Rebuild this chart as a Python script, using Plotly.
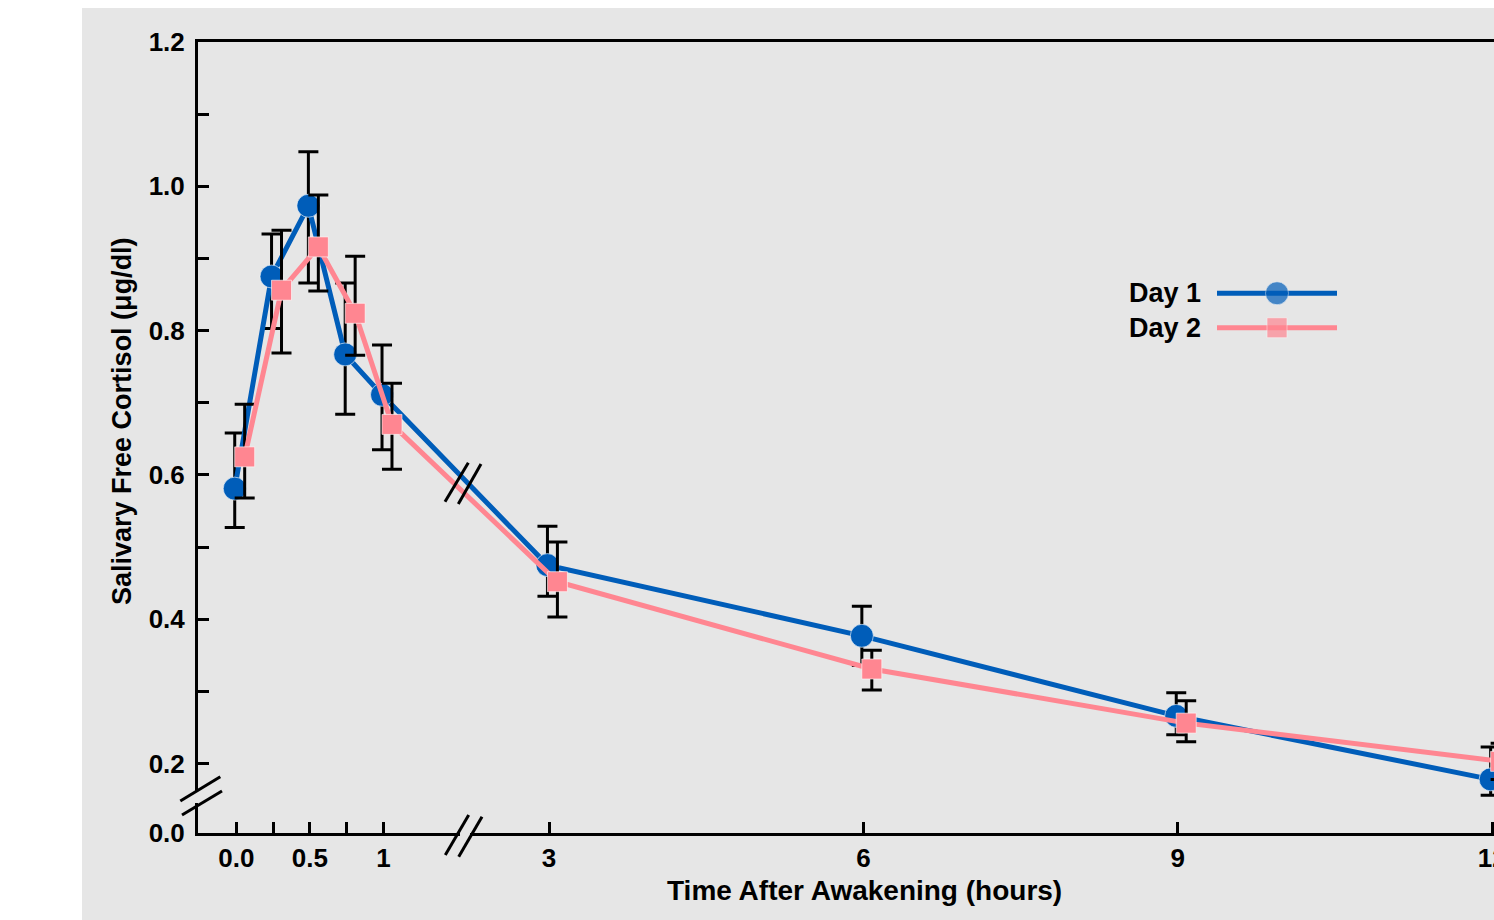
import plotly.graph_objects as go

# ---------------- data ----------------
hours = [0.0, 0.25, 0.5, 0.75, 1.0, 3.0, 6.0, 9.0, 12.0]

day1_mean = [0.581, 0.875, 0.973, 0.767, 0.711, 0.475, 0.377, 0.266, 0.178]
day1_err_up = [0.077, 0.059, 0.075, 0.099, 0.069, 0.054, 0.041, 0.032, 0.045]
day1_err_dn = [0.054, 0.072, 0.107, 0.083, 0.076, 0.043, 0.041, 0.026, 0.022]

day2_mean = [0.625, 0.856, 0.916, 0.824, 0.670, 0.452, 0.331, 0.256, 0.203]
day2_err_up = [0.073, 0.083, 0.072, 0.079, 0.057, 0.055, 0.026, 0.031, 0.025]
day2_err_dn = [0.057, 0.087, 0.061, 0.058, 0.062, 0.049, 0.029, 0.026, 0.025]

x_tick_hours = [0.0, 0.25, 0.5, 0.75, 1.0, 3.0, 6.0, 9.0, 12.0]
x_tick_labels = ["0.0", "", "0.5", "", "1", "3", "6", "9", "12"]

y_tick_vals = [0.2, 0.3, 0.4, 0.5, 0.6, 0.7, 0.8, 0.9, 1.0, 1.1, 1.2]
y_tick_labels = ["0.2", "", "0.4", "", "0.6", "", "0.8", "", "1.0", "", "1.2"]
y_axis_bottom = 0.1037          # broken axis: bottom labelled 0.0
y_bottom_label = "0.0"

series_names = ["Day 1", "Day 2"]

# ---------------- layout constants ----------------
OFF = 0                      # body margin removed via post_script
W, H = 1494, 920
L, R, T = 198, 0, 42
B = H - 833
PW, PH = W - L - R, H - T - B

BLUE = "#005DB9"
PINK = "#FF8691"
BG = "#E6E6E6"
FONT = "Liberation Sans, Arial, sans-serif"

EARLY_SCALE = 1.4055   # axis units per hour before the x break
LATE_OFFSET = 2.984    # axis position of 3 h


def xpos(t):
    return t * EARLY_SCALE if t <= 1.5 else LATE_OFFSET + (t - 3.0)


def px(p):   # screen pixel -> paper x
    return (p - OFF - L) / PW


def py(p):   # screen pixel -> paper y
    return (H - B - (p - OFF)) / PH


DODGE1, DODGE2 = -0.015, 0.08
x1 = [xpos(t) + DODGE1 for t in hours]
x2 = [xpos(t) + DODGE2 for t in hours]

fig = go.Figure()

err_style = dict(type="data", symmetric=False, color="black", thickness=3, width=10)
edge = dict(color="rgba(255,255,255,0.6)", width=1)

fig.add_trace(go.Scatter(
    x=x1, y=day1_mean, mode="lines+markers", name=series_names[0],
    line=dict(color=BLUE, width=5),
    marker=dict(symbol="circle", size=23, color=BLUE, line=edge),
    error_y=dict(array=day1_err_up, arrayminus=day1_err_dn, **err_style),
    showlegend=False,
))
fig.add_trace(go.Scatter(
    x=x2, y=day2_mean, mode="lines+markers", name=series_names[1],
    line=dict(color=PINK, width=5),
    marker=dict(symbol="square", size=20, color=PINK, line=edge),
    error_y=dict(array=day2_err_up, arrayminus=day2_err_dn, **err_style),
    showlegend=False,
))

# legend samples on an auxiliary axis
leg_x = [0, 0.5, 1]
fig.add_trace(go.Scatter(
    x=leg_x, y=[1, 1, 1], mode="lines+markers", xaxis="x2", yaxis="y2",
    line=dict(color=BLUE, width=5),
    marker=dict(symbol="circle", size=[0, 23, 0], color=BLUE, line=edge),
    showlegend=False, hoverinfo="skip",
))
fig.add_trace(go.Scatter(
    x=leg_x, y=[0, 0, 0], mode="lines+markers", xaxis="x2", yaxis="y2",
    line=dict(color=PINK, width=5),
    marker=dict(symbol="square", size=[0, 20, 0], color=PINK, line=edge),
    showlegend=False, hoverinfo="skip",
))

shapes = []
# grey panel
shapes.append(dict(type="rect", xref="paper", yref="paper", x0=px(82), x1=px(1500), y0=py(8), y1=py(925),
                   fillcolor=BG, line=dict(width=0), layer="below"))
# gaps in axis lines at the breaks
shapes.append(dict(type="rect", xref="paper", yref="paper", x0=px(194), x1=px(202), y0=py(803), y1=py(792),
                   fillcolor=BG, line=dict(width=0), layer="above"))
shapes.append(dict(type="rect", xref="paper", yref="paper", x0=px(460), x1=px(470), y0=py(837), y1=py(829),
                   fillcolor=BG, line=dict(width=0), layer="above"))
slashes = [
    ((180.3, 801), (220.3, 776.7)), ((182, 815), (222, 791)),        # y break
    ((445.3, 855), (468.7, 815)), ((458.7, 856.7), (482, 816.7)),    # x break
    ((445, 501.7), (468.3, 462.7)), ((458.3, 504), (481, 464)),      # break on curves
]
for (a, b) in slashes:
    shapes.append(dict(type="line", xref="paper", yref="paper", x0=px(a[0]), y0=py(a[1]), x1=px(b[0]), y1=py(b[1]),
                       line=dict(color="black", width=3), layer="above"))

annotations = [
    dict(text="<b>Time After Awakening (hours)</b>", xref="paper", yref="paper", x=px(864.5), y=py(890),
         showarrow=False, font=dict(size=28, color="black", family=FONT), xanchor="center", yanchor="middle"),
    dict(text="<b>Salivary Free Cortisol (μg/dl)</b>", xref="paper", yref="paper", x=px(122), y=py(421),
         showarrow=False, textangle=-90, font=dict(size=27, color="black", family=FONT),
         xanchor="center", yanchor="middle"),
    dict(text="<b>" + series_names[0] + "</b>", xref="paper", yref="paper", x=px(1203), y=py(293),
         showarrow=False, font=dict(size=27, color="black", family=FONT), xanchor="right", yanchor="middle"),
    dict(text="<b>" + series_names[1] + "</b>", xref="paper", yref="paper", x=px(1203), y=py(328),
         showarrow=False, font=dict(size=27, color="black", family=FONT), xanchor="right", yanchor="middle"),
]

x0_pix = 236.3 - OFF - L     # position of t=0 inside plot area
unit = 104.8
x_range = [-x0_pix / unit, (PW - x0_pix) / unit]

fig.update_layout(
    width=W, height=H,
    margin=dict(l=L, r=R, t=T, b=B, pad=0, autoexpand=False),
    paper_bgcolor="white",
    plot_bgcolor="rgba(0,0,0,0)",
    font=dict(family=FONT, color="black"),
    shapes=shapes,
    annotations=annotations,
    xaxis=dict(
        range=x_range, showgrid=False, zeroline=False, automargin=False,
        tickmode="array", tickvals=[xpos(t) for t in x_tick_hours],
        ticktext=["<b>%s</b>" % s if s else "" for s in x_tick_labels],
        ticks="inside", ticklen=11, tickwidth=3, tickcolor="black",
        showline=True, linecolor="black", linewidth=3, mirror=True,
        tickfont=dict(size=26, family=FONT, color="black"),
        ticklabelstandoff=0, ticklabeloverflow="allow",
    ),
    yaxis=dict(
        range=[y_axis_bottom, 1.2], showgrid=False, zeroline=False, automargin=False,
        tickmode="array", tickvals=[y_axis_bottom] + y_tick_vals,
        ticktext=["<b>%s</b>" % y_bottom_label] + ["<b>%s</b>" % s if s else "" for s in y_tick_labels],
        ticks="inside", ticklen=11, tickwidth=3, tickcolor="black",
        showline=True, linecolor="black", linewidth=3,
        tickfont=dict(size=26, family=FONT, color="black"),
        ticklabelstandoff=5,
    ),
    xaxis2=dict(domain=[px(1217), px(1337)], range=[0, 1], anchor="y2", visible=False),
    yaxis2=dict(domain=[py(345), py(276)], range=[-0.5, 1.5], anchor="x2", visible=False),
)

fig.write_html(
    "out.html",
    config={"displayModeBar": False},
    post_script="document.body.style.margin='0';document.body.style.overflow='hidden';",
)
